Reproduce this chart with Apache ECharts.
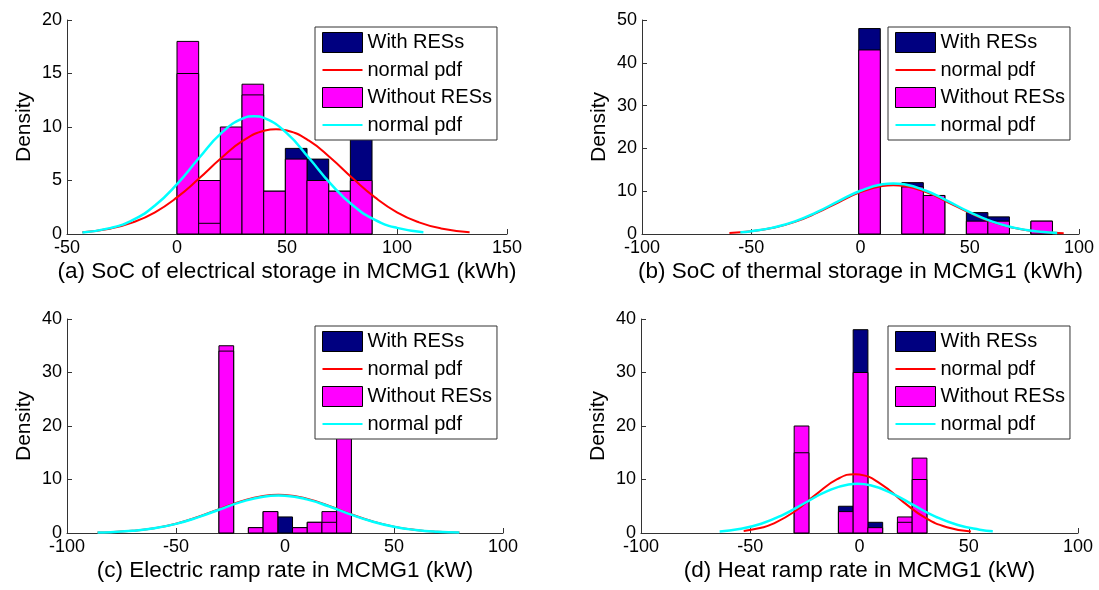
<!DOCTYPE html>
<html>
<head>
<meta charset="utf-8">
<script src="https://cdn.jsdelivr.net/npm/echarts@6/dist/echarts.min.js"></script>
<style>
html,body{margin:0;padding:0;background:#fff;}
#chart{width:1099px;height:590px;}
</style>
</head>
<body>
<div id="chart"></div>
<script>
// ---------- DATA ----------
// Panel (a): SoC of electrical storage
const aEdges   = [0, 9.85, 19.7, 29.55, 39.4, 49.25, 59.1, 68.95, 78.8, 88.65];
const aWith    = [15, 1, 7, 13, 4, 8, 7, 4, 10];
const aWithout = [18, 5, 10, 14, 4, 7, 5, 4, 5];
const aRedX  = [-43, -30, -20, -10, 0, 10, 20, 30, 40, 45, 50, 60, 70, 80, 90, 100, 110, 120, 133];
const aRedY  = [0.17, 0.52, 1.09, 2.03, 3.42, 5.18, 7.08, 8.72, 9.67, 9.8, 9.67, 8.72, 7.08, 5.18, 3.42, 2.03, 1.09, 0.52, 0.17];
const aCyanX = [-43, -30, -20, -10, 0, 10, 20, 30, 35, 40, 50, 60, 70, 80, 90, 100, 112];
const aCyanY = [0.15, 0.57, 1.32, 2.66, 4.66, 7.1, 9.4, 10.8, 11, 10.8, 9.4, 7.1, 4.66, 2.66, 1.32, 0.57, 0.17];

// Panel (b): SoC of thermal storage
const bEdges   = [-0.8, 9.05, 18.9, 28.75, 38.6, 48.45, 58.3, 68.15, 78.0, 87.85];
const bWith    = [48, 0, 12, 9, 0, 5, 4, 0, 3];
const bWithout = [43, 0, 11, 9, 0, 3, 3, 0, 3];
const bRedX  = [-60, -50, -40, -30, -20, -10, 0, 10, 15, 20, 30, 40, 50, 60, 70, 80, 93];
const bRedY  = [0.24, 0.63, 1.44, 2.84, 4.92, 7.42, 9.77, 11.2, 11.4, 11.2, 9.77, 7.42, 4.92, 2.84, 1.44, 0.63, 0.18];
const bCyanX = [-55, -50, -40, -30, -20, -10, 0, 10, 15, 20, 30, 40, 50, 60, 70, 80, 90];
const bCyanY = [0.41, 0.65, 1.49, 2.94, 5.1, 7.68, 10.1, 11.6, 11.8, 11.6, 10.1, 7.68, 5.1, 2.94, 1.49, 0.65, 0.25];

// Panel (c): Electric ramp rate
const cEdges   = [-30.3, -23.55, -16.8, -10.05, -3.3, 3.45, 10.2, 16.95, 23.7, 30.45];
const cWith    = [34, 0, 1, 4, 3, 1, 2, 2, 22];
const cWithout = [35, 0, 1, 4, 0, 1, 2, 4, 22];
const cRedX  = [-86, -80, -70, -60, -50, -40, -30, -20, -10, -3, 0, 10, 20, 30, 40, 50, 60, 70, 80];
const cRedY  = [0.09, 0.16, 0.41, 0.9, 1.74, 2.99, 4.49, 5.95, 6.93, 7.15, 7.11, 6.42, 5.11, 3.57, 2.2, 1.19, 0.57, 0.24, 0.09];
const cCyanX = [-86, -80, -70, -60, -50, -40, -30, -20, -10, -3, 0, 10, 20, 30, 40, 50, 60, 70, 80];
const cCyanY = [0.09, 0.16, 0.4, 0.88, 1.71, 2.93, 4.4, 5.82, 6.78, 7.0, 6.96, 6.29, 5.0, 3.49, 2.15, 1.17, 0.56, 0.23, 0.09];

// Panel (d): Heat ramp rate
const dEdges   = [-29.9, -23.15, -16.4, -9.65, -2.9, 3.85, 10.6, 17.35, 24.1, 30.85];
const dWith    = [15, 0, 0, 5, 38, 2, 0, 2, 10];
const dWithout = [20, 0, 0, 4, 30, 1, 0, 3, 14];
const dRedX  = [-53, -45, -40, -30, -20, -10, -2, 0, 10, 20, 30, 40, 51];
const dRedY  = [0.36, 0.97, 1.65, 3.93, 7.18, 10.1, 11, 10.94, 9.1, 5.82, 2.86, 1.08, 0.27];
const dCyanX = [-64, -55, -45, -35, -25, -15, -5, -1, 5, 15, 25, 35, 45, 55, 61];
const dCyanY = [0.3, 0.75, 1.74, 3.41, 5.61, 7.78, 9.07, 9.2, 8.92, 7.38, 5.15, 3.02, 1.49, 0.62, 0.34];

// Axis settings and labels
const xTitles = [
  '(a) SoC of electrical storage in MCMG1 (kWh)',
  '(b) SoC of thermal storage in MCMG1 (kWh)',
  '(c) Electric ramp rate in MCMG1 (kW)',
  '(d) Heat ramp rate in MCMG1 (kW)'
];
const xRanges = [[-50, 150], [-100, 100], [-100, 100], [-100, 100]];
const yRanges = [[0, 20], [0, 50], [0, 40], [0, 40]];
const yIntervals = [5, 10, 10, 10];
const legendLabels = {With: 'With RESs', PdfWith: 'normal pdf', Without: 'Without RESs', PdfWithout: 'normal pdf'};

// ---------- CHART ----------
const NAVY = '#000080', MAGENTA = '#ff00ff', RED = '#ff0000', CYAN = '#00ffff';
const FONT = 'Liberation Sans, Arial, Helvetica, sans-serif';
// thin horizontal stroke icon in a 40x20 box (tiny slivers keep the box size)
const LINE_ICON = 'path://M0,0L40,0L40,0.01L0,0.01Z M0,9.1L40,9.1L40,10.9L0,10.9Z M0,19.99L40,19.99L40,20L0,20Z';

const panels = [
  {key: 'a', edges: aEdges, w: aWith, wo: aWithout, rx: aRedX, ry: aRedY, cx: aCyanX, cy: aCyanY},
  {key: 'b', edges: bEdges, w: bWith, wo: bWithout, rx: bRedX, ry: bRedY, cx: bCyanX, cy: bCyanY},
  {key: 'c', edges: cEdges, w: cWith, wo: cWithout, rx: cRedX, ry: cRedY, cx: cCyanX, cy: cCyanY},
  {key: 'd', edges: dEdges, w: dWith, wo: dWithout, rx: dRedX, ry: dRedY, cx: dCyanX, cy: dCyanY}
];

const grids = [
  {left: 67, top: 20, width: 440, height: 214},
  {left: 642, top: 20, width: 437, height: 214},
  {left: 67, top: 319, width: 436, height: 214},
  {left: 641, top: 319, width: 437, height: 214}
];
const legendPos = [
  {left: 315, top: 27}, {left: 888, top: 27}, {left: 315, top: 326}, {left: 888, top: 326}
];

function barRenderer(fill, inner) {
  return function (params, api) {
    const x0 = api.value(0), x1 = api.value(1), v = api.value(2), other = api.value(3);
    const p0 = api.coord([x0, 0]);
    const p1 = api.coord([x1, v]);
    const children = [];
    if (v > 0) {
      children.push({
        type: 'rect',
        shape: {x: p0[0], y: p1[1], width: p1[0] - p0[0], height: p0[1] - p1[1]},
        style: {fill: fill, stroke: '#000', lineWidth: 1}
      });
    }
    if (inner && other > 0 && other < v) {
      const q = api.coord([x0, other]);
      children.push({
        type: 'line',
        shape: {x1: p0[0], y1: q[1], x2: p1[0], y2: q[1]},
        style: {stroke: '#000', lineWidth: 1}
      });
    }
    return {type: 'group', children: children};
  };
}

const xAxes = [], yAxes = [], series = [], legends = [];
panels.forEach(function (p, i) {
  xAxes.push({
    type: 'value', gridIndex: i, min: xRanges[i][0], max: xRanges[i][1], interval: 50,
    splitLine: {show: false},
    axisLine: {show: true, onZero: false, lineStyle: {color: '#333', width: 1}},
    axisTick: {show: true, inside: true, length: 5, lineStyle: {color: '#333'}},
    axisLabel: {color: '#000', fontSize: 18, fontFamily: FONT, margin: 5},
    name: xTitles[i], nameLocation: 'middle', nameGap: 26,
    nameTextStyle: {color: '#000', fontSize: 22.5, fontFamily: FONT}
  });
  yAxes.push({
    type: 'value', gridIndex: i, min: yRanges[i][0], max: yRanges[i][1], interval: yIntervals[i],
    splitLine: {show: false},
    axisLine: {show: true, onZero: false, lineStyle: {color: '#333', width: 1}},
    axisTick: {show: true, inside: true, length: 5, lineStyle: {color: '#333'}},
    axisLabel: {color: '#000', fontSize: 18, fontFamily: FONT, margin: 5},
    name: 'Density', nameLocation: 'middle', nameGap: 32, nameRotate: 90,
    nameTextStyle: {color: '#000', fontSize: 21, fontFamily: FONT}
  });
  const withData = [], withoutData = [];
  for (let k = 0; k < p.w.length; k++) {
    withData.push([p.edges[k], p.edges[k + 1], p.w[k], p.wo[k]]);
    withoutData.push([p.edges[k], p.edges[k + 1], p.wo[k], p.w[k]]);
  }
  const n = p.key + '|';
  series.push({
    type: 'custom', name: n + 'With', xAxisIndex: i, yAxisIndex: i,
    itemStyle: {color: NAVY}, renderItem: barRenderer(NAVY, false),
    encode: {x: [0, 1], y: 2}, data: withData, z: 2
  });
  series.push({
    type: 'custom', name: n + 'Without', xAxisIndex: i, yAxisIndex: i,
    itemStyle: {color: MAGENTA}, renderItem: barRenderer(MAGENTA, true),
    encode: {x: [0, 1], y: 2}, data: withoutData, z: 3
  });
  series.push({
    type: 'line', name: n + 'PdfWith', xAxisIndex: i, yAxisIndex: i,
    smooth: true, symbol: 'none', showSymbol: false, lineStyle: {color: RED, width: 2}, itemStyle: {color: RED},
    data: p.rx.map(function (x, k) { return [x, p.ry[k]]; }), z: 4, animation: false
  });
  series.push({
    type: 'line', name: n + 'PdfWithout', xAxisIndex: i, yAxisIndex: i,
    smooth: true, symbol: 'none', showSymbol: false, lineStyle: {color: CYAN, width: 2.5}, itemStyle: {color: CYAN},
    data: p.cx.map(function (x, k) { return [x, p.cy[k]]; }), z: 5, animation: false
  });
  legends.push({
    left: legendPos[i].left, top: legendPos[i].top, orient: 'vertical',
    selectedMode: false,
    backgroundColor: '#fff', borderColor: '#333', borderWidth: 1, borderRadius: 0,
    padding: [5, 5, 5, 7], itemWidth: 40, itemHeight: 20, itemGap: 7,
    textStyle: {color: '#000', fontSize: 20, fontFamily: FONT, lineHeight: 20},
    formatter: function (name) { return legendLabels[name.split('|')[1]]; },
    data: [
      {name: n + 'With', icon: 'rect', itemStyle: {color: NAVY, borderColor: '#000', borderWidth: 1}},
      {name: n + 'PdfWith', icon: LINE_ICON, itemStyle: {color: RED, borderWidth: 0}},
      {name: n + 'Without', icon: 'rect', itemStyle: {color: MAGENTA, borderColor: '#000', borderWidth: 1}},
      {name: n + 'PdfWithout', icon: LINE_ICON, itemStyle: {color: CYAN, borderWidth: 0}}
    ]
  });
});

const chart = echarts.init(document.getElementById('chart'), null, {renderer: 'canvas'});
chart.setOption({
  backgroundColor: '#fff',
  animation: false,
  grid: grids,
  xAxis: xAxes,
  yAxis: yAxes,
  legend: legends,
  series: series
});
</script>
</body>
</html>
